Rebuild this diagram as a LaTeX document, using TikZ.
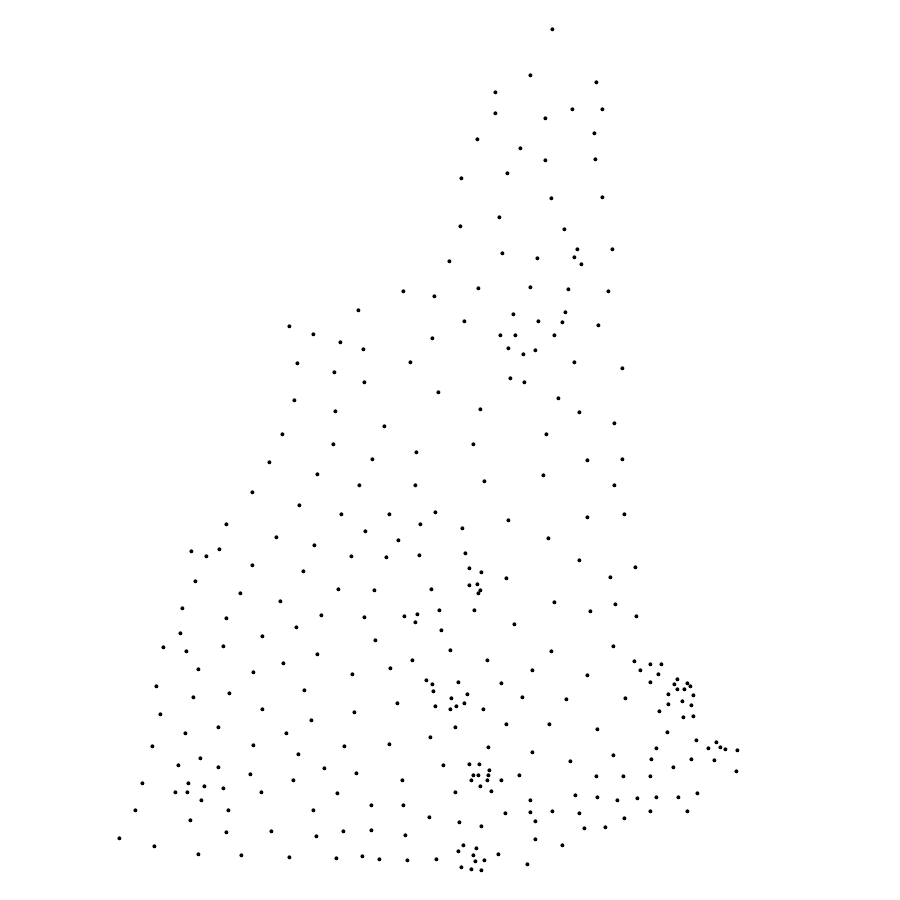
\documentclass[tikz,border=0pt]{standalone}
\tikzset{pointdot/.style={fill=black,draw=none}}
\begin{document}
\begin{tikzpicture}[x=1pt,y=-1pt]
\useasboundingbox (0,0) rectangle (900,900);
\foreach \px/\py in {
469/764,479/764,489/770,473/775,478/775,488/775,471/780,487/780,501/780,480/786,455/792,491/791,
463/845,476/848,458/851,473/855,498/854,475/861,484/860,461/867,471/869,481/870,
634/661,650/664,661/664,640/670,658/674,650/682,677/679,674/684,687/683,690/686,677/689,684/689,668/694,693/695,668/704,682/701,691/705,659/711,683/717,693/716,625/698,
426/680,432/684,458/682,433/691,467/694,451/698,435/706,464/703,456/706,450/709,
465/553,469/568,481/572,477/584,469/585,480/590,478/593,474/610,
513/314,565/312,538/321,562/322,500/335,515/335,554/335,508/348,523/354,535/350,574/362,510/378,524/382,
552/29,530/75,596/82,495/92,602/109,572/109,495/113,545/118,594/133,477/139,520/148,545/160,595/159,507/173,461/178,551/198,602/197,499/217,460/226,564/229,577/249,612/249,502/253,537/258,574/257,581/264,449/261,478/288,530/287,568/289,608/291,403/291,434/296,358/310,464/321,598/325,289/326,313/334,432/338,340/342,363/349,297/363,410/362,334/372,622/368,364/382,438/392,294/400,558/398,335/411,480/409,579/412,384/426,614/423,282/434,546/434,333/444,473/444,416/452,269/462,372/459,587/460,622/459,317/474,543/475,484/481,359/485,415/485,614/485,252/492,299/505,341/514,389/514,435/512,624/514,587/517,226/524,420/524,508/520,462/528,365/531,276/537,398/540,548/538,314/545,191/551,206/556,219/549,351/556,386/557,419/555,252/565,579/560,303/571,635/567,195/581,506/578,610/577,338/589,374/590,431/589,240/593,280/601,554/602,182/608,615/604,590/611,404/616,417/614,439/610,321/615,364/617,226/618,415/622,636/616,514/624,296/627,441/630,180/633,262/636,375/640,163/647,223/646,186/651,613/646,450/650,551/651,317/654,283/663,412/660,487/660,198/669,253/672,390/668,532/670,352/674,587/675,156/686,501/683,304/690,229/693,193/697,522/697,566/699,397/703,262/709,483/709,160/714,354/712,311/720,218/727,506/724,549/724,597/729,455/727,286/733,185/733,667/732,430/737,389/744,152/746,253/745,344/746,696/740,488/747,656/748,532/752,613/755,298/754,200/758,570/761,651/759,691/759,708/748,716/742,720/747,725/749,737/750,714/760,736/771,673/767,324/768,218/767,443/765,356/773,178/765,250/774,519/775,596/776,623/776,650/776,293/780,402/780,142/783,188/783,223/788,204/786,175/792,187/792,261/792,337/793,201/800,575/795,697/793,530/800,597/797,617/800,637/798,656/797,678/797,135/810,228/810,313/810,371/805,403/805,505/813,530/812,552/811,579/813,650/811,687/811,429/817,535/821,624/818,190/820,459/822,481/826,584/828,605/827,226/832,271/831,343/831,371/830,316/836,405/835,119/838,535/839,154/846,562/845,198/854,241/855,289/857,336/858,362/856,379/859,407/860,436/859,527/864}
{ \fill[pointdot] ({\px+0.4},{\py+0.3}) circle[radius=2pt]; }
\end{tikzpicture}
\end{document}
